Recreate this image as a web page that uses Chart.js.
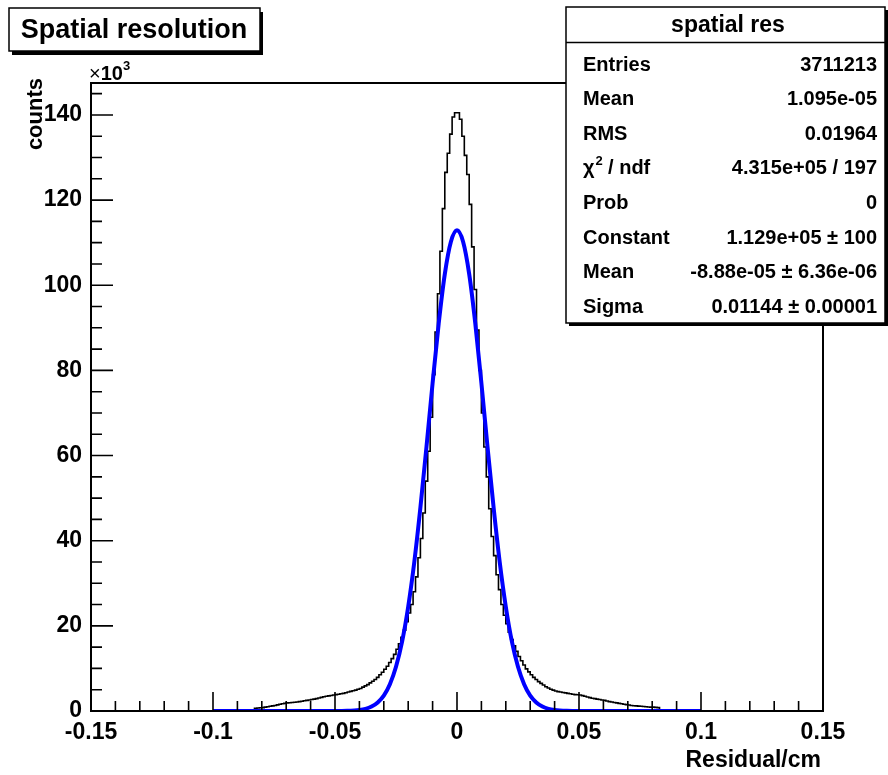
<!DOCTYPE html>
<html>
<head>
<meta charset="utf-8">
<script src="https://cdn.jsdelivr.net/npm/chart.js@4.4.0/dist/chart.umd.min.js"></script>
<style>
  html, body { margin: 0; padding: 0; background: #fff; }
  canvas { display: block; }
</style>
</head>
<body>
<canvas id="resChart" width="888" height="775"></canvas>
<script>
// histogram: 200 bins of 0.001 cm between -0.1 and 0.1, counts in units of 10^3
const binLow = -0.1;
const binWidth = 0.001;
// bins read outward from 0 (first value = bin just left of 0)
const countsNeg = [140.5, 139.5, 135.5, 131, 126.5, 118, 108, 98, 89, 79,
  69, 61, 54, 46.5, 40.5, 36, 31.5, 28, 25, 23,
  21, 19, 17.3, 15.8, 14.5, 13.3, 12.3, 11.4, 10.5, 9.8,
  9.1, 8.5, 7.9, 7.4, 7.0, 6.6, 6.2, 5.9, 5.6, 5.3,
  5.1, 4.9, 4.75, 4.6, 4.45, 4.3, 4.15, 4.05, 3.95, 3.85,
  3.75, 3.65, 3.55, 3.45, 3.35, 3.2, 3.05, 2.9, 2.8, 2.7,
  2.6, 2.5, 2.4, 2.3, 2.2, 2.1, 2.05, 2.0, 1.95, 1.9,
  1.8, 1.7, 1.6, 1.45, 1.3, 1.2, 1.1, 1.0, 0.9, 0.8,
  0.75, 0.7, 0.65, 0, 0, 0, 0, 0, 0, 0,
  0, 0, 0, 0, 0, 0, 0, 0, 0, 0];
// bins read outward from 0 (first value = bin just right of 0)
const countsPos = [140.5, 139, 135, 130.5, 126, 119, 109, 99, 89.5, 80,
  70, 62, 55, 47.5, 41, 36.5, 32, 28.5, 25, 22.5,
  20.5, 18.5, 16.8, 15.3, 14.0, 12.8, 11.8, 10.8, 9.9, 9.2,
  8.5, 7.9, 7.4, 6.9, 6.5, 6.1, 5.7, 5.4, 5.1, 4.9,
  4.7, 4.55, 4.45, 4.35, 4.25, 4.15, 4.05, 3.95, 3.85, 3.8,
  3.75, 3.6, 3.45, 3.3, 3.15, 3.0, 2.9, 2.8, 2.7, 2.6,
  2.5, 2.35, 2.2, 2.1, 2.0, 1.9, 1.8, 1.7, 1.6, 1.5,
  1.4, 1.3, 1.25, 1.2, 1.15, 1.1, 1.05, 1.0, 0.95, 0.9,
  0.9, 0.85, 0.8, 0, 0, 0, 0, 0, 0, 0,
  0, 0, 0, 0, 0, 0, 0, 0, 0, 0];

// gaussian fit curve
const fitX = [-0.1, -0.05, -0.045, -0.04, -0.0375, -0.035, -0.0325, -0.03, -0.0275, -0.025,
  -0.0225, -0.02, -0.0175, -0.015, -0.0125, -0.01, -0.0075, -0.005, -0.0025, 0,
  0.0025, 0.005, 0.0075, 0.01, 0.0125, 0.015, 0.0175, 0.02, 0.0225, 0.025,
  0.0275, 0.03, 0.0325, 0.035, 0.0375, 0.04, 0.045, 0.05, 0.1];
const fitY = [0, 0, 0.05, 0.25, 0.5, 1.05, 2.0, 3.6, 6.3, 10.4,
  16.3, 24.5, 35.0, 47.8, 62.1, 77.0, 91.0, 102.6, 110.2, 112.9,
  110.2, 102.6, 91.0, 77.0, 62.1, 47.8, 35.0, 24.5, 16.3, 10.4,
  6.3, 3.6, 2.0, 1.05, 0.5, 0.25, 0.05, 0, 0];

const xTicks = [-0.15, -0.1, -0.05, 0, 0.05, 0.1, 0.15];
const yTicks = [0, 20, 40, 60, 80, 100, 120, 140];

const statLabels = ['Entries', 'Mean', 'RMS', 'CHI', 'Prob', 'Constant', 'Mean', 'Sigma'];
const statValues = ['3711213', '1.095e-05', '0.01964', '4.315e+05 / 197', '0',
  '1.129e+05 \u00b1 100', '-8.88e-05 \u00b1 6.36e-06', '0.01144 \u00b1 0.00001'];

const FONT = "'Liberation Sans', Arial, sans-serif";

const counts = countsNeg.slice().reverse().concat(countsPos);
const histPoints = counts.map((c, i) => ({ x: binLow + i * binWidth, y: c }));
histPoints.push({ x: binLow + counts.length * binWidth, y: 0 });
const fitPoints = fitX.map((x, i) => ({ x: x, y: fitY[i] }));

// frame, inward ticks, title box, stats box
const decorations = {
  id: 'decorations',
  afterDraw(chart) {
    const ctx = chart.ctx;
    const a = chart.chartArea;
    const xs = chart.scales.x, ys = chart.scales.y;
    ctx.save();
    ctx.strokeStyle = '#000';
    ctx.fillStyle = '#000';
    ctx.lineWidth = 2;
    ctx.strokeRect(a.left, a.top, a.right - a.left, a.bottom - a.top);

    ctx.lineWidth = 1.6;
    ctx.beginPath();
    for (let i = -15; i <= 15; i++) {
      const px = xs.getPixelForValue(i / 100);
      const len = (i % 5 === 0) ? 19 : 10;
      ctx.moveTo(px, a.bottom);
      ctx.lineTo(px, a.bottom - len);
    }
    for (let i = 0; i <= 29; i++) {
      const py = ys.getPixelForValue(i * 5);
      const len = (i % 4 === 0) ? 22 : 11;
      ctx.moveTo(a.left, py);
      ctx.lineTo(a.left + len, py);
    }
    ctx.stroke();

    // x10^3
    ctx.font = '20px ' + FONT;
    ctx.textAlign = 'left';
    ctx.textBaseline = 'alphabetic';
    ctx.fillText('\u00d7', 89, 80);
    const wx = ctx.measureText('\u00d7').width;
    ctx.font = 'bold 20px ' + FONT;
    ctx.fillText('10', 89 + wx, 80);
    const w10 = ctx.measureText('10').width;
    ctx.font = 'bold 13px ' + FONT;
    ctx.fillText('3', 89 + wx + w10, 70);

    // axis titles
    ctx.font = 'bold 22px ' + FONT;
    ctx.textAlign = 'right';
    ctx.textBaseline = 'middle';
    ctx.save();
    ctx.translate(36, 78);
    ctx.rotate(-Math.PI / 2);
    ctx.fillText('counts', 0, 0);
    ctx.restore();
    ctx.font = 'bold 23px ' + FONT;
    ctx.fillText('Residual/cm', 821, 761);

    // title box
    ctx.fillRect(12, 12, 251, 43);
    ctx.fillStyle = '#fff';
    ctx.fillRect(9, 8, 251, 43);
    ctx.fillStyle = '#000';
    ctx.lineWidth = 1.5;
    ctx.strokeRect(9, 8, 251, 43);
    ctx.font = 'bold 27px ' + FONT;
    ctx.textAlign = 'center';
    ctx.fillText('Spatial resolution', 134, 31);

    // stats box
    const bx = 566, by = 7, bw = 319, bh = 316;
    ctx.fillRect(bx + 3, by + 3, bw, bh);
    ctx.fillStyle = '#fff';
    ctx.fillRect(bx, by, bw, bh);
    ctx.fillStyle = '#000';
    ctx.strokeRect(bx, by, bw, bh);
    ctx.beginPath();
    ctx.moveTo(bx, 42.5);
    ctx.lineTo(bx + bw, 42.5);
    ctx.stroke();
    ctx.font = 'bold 23px ' + FONT;
    ctx.textAlign = 'center';
    ctx.fillText('spatial res', 728, 26);
    statLabels.forEach((lab, i) => {
      const y = 65 + i * 34.6;
      ctx.font = 'bold 20px ' + FONT;
      ctx.textAlign = 'left';
      if (lab === 'CHI') {
        ctx.fillText('\u03c7', 583, y);
        const wc = ctx.measureText('\u03c7').width;
        ctx.font = 'bold 13px ' + FONT;
        ctx.fillText('2', 583 + wc + 1, y - 7);
        ctx.font = 'bold 20px ' + FONT;
        ctx.fillText(' / ndf', 583 + wc + 8, y);
      } else {
        ctx.fillText(lab, 583, y);
      }
      ctx.textAlign = 'right';
      ctx.fillText(statValues[i], 877, y);
    });
    ctx.restore();
  }
};

const tickFont = { family: FONT, size: 23, weight: 'bold' };

new Chart(document.getElementById('resChart'), {
  type: 'line',
  data: {
    datasets: [{
      label: 'fit',
      data: fitPoints,
      borderColor: '#0000ff',
      borderWidth: 4,
      pointRadius: 0,
      cubicInterpolationMode: 'monotone',
      order: 0
    }, {
      label: 'spatial res',
      data: histPoints,
      stepped: true,
      borderColor: '#000000',
      borderWidth: 1.6,
      pointRadius: 0,
      order: 1
    }]
  },
  options: {
    responsive: false,
    animation: false,
    layout: { padding: { top: 83, right: 65, left: 0, bottom: 0 } },
    plugins: { legend: { display: false }, tooltip: { enabled: false } },
    scales: {
      x: {
        type: 'linear',
        min: -0.15,
        max: 0.15,
        grid: { display: false, drawTicks: false },
        border: { display: false },
        afterBuildTicks(s) { s.ticks = xTicks.map(v => ({ value: v })); },
        afterFit(s) { s.height = 64; },
        ticks: {
          color: '#000',
          font: tickFont,
          padding: 8,
          maxRotation: 0,
          autoSkip: false,
          callback: v => String(Number(v.toFixed(2)))
        }
      },
      y: {
        type: 'linear',
        min: 0,
        max: 147.5,
        grid: { display: false, drawTicks: false },
        border: { display: false },
        afterBuildTicks(s) { s.ticks = yTicks.map(v => ({ value: v })); },
        afterFit(s) { s.width = 91; },
        ticks: {
          color: '#000',
          font: tickFont,
          padding: 9,
          callback: v => String(v)
        }
      }
    }
  },
  plugins: [decorations]
});
</script>
</body>
</html>
